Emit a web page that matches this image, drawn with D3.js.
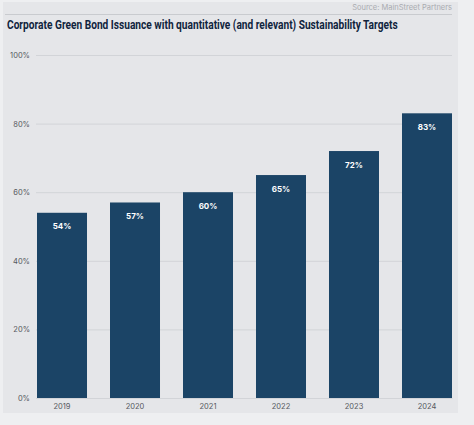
<!DOCTYPE html>
<html><head><meta charset="utf-8">
<script src="https://cdn.jsdelivr.net/npm/d3@7"></script>
<style>
html,body{margin:0;padding:0;background:#eeeff1;}
svg{display:block;}
</style></head>
<body>
<svg id="chart" width="474" height="425"></svg>
<script>
const years = ["2019","2020","2021","2022","2023","2024"];
const shares = [54, 57, 60, 65, 72, 83];
const yTicks = [0, 20, 40, 60, 80, 100];
const titleText = "Corporate Green Bond Issuance with quantitative (and relevant) Sustainability Targets";
const sourceText = "Source: MainStreet Partners";

const svg = d3.select("#chart");
svg.append("rect").attr("x",3).attr("y",2).attr("width",455).attr("height",411).attr("fill","#e5e6e9");

svg.append("text").attr("x",452).attr("y",10).attr("text-anchor","end")
  .attr("font-family","Inter, 'Noto Sans', sans-serif").attr("font-size",7.5).attr("fill","#a9abb0")
  .text(sourceText);
svg.append("line").attr("x1",5).attr("x2",452).attr("y1",14.5).attr("y2",14.5).attr("stroke","#c9cbcf").attr("stroke-width",1);

const title = svg.append("text").attr("transform","translate(7,28.5)")
  .attr("font-family","Roboto, sans-serif").attr("font-weight","bold")
  .attr("font-size",13).attr("fill","#10243d")
  .text(titleText);
const tw = title.node().getComputedTextLength();
title.attr("transform", `translate(7,28.5) scale(${Math.min(1, 391 / tw)},1)`);

const x = d3.scaleBand().domain(years).range([37,452]).paddingInner(0.315).paddingOuter(0);
const y = d3.scaleLinear().domain([0,100]).range([398,55]);

const yAxis = d3.axisLeft(y).tickValues(yTicks).tickFormat(d=>d+"%").tickSize(-(452-36)).tickPadding(6);
const gy = svg.append("g").attr("transform","translate(36,0)").call(yAxis);
gy.select(".domain").remove();
gy.selectAll(".tick line").attr("stroke","#d2d4d8").attr("stroke-width",1);
gy.selectAll(".tick text").attr("font-family","Inter, 'Noto Sans', sans-serif").attr("font-size",7.5).attr("fill","#555860");

const xAxis = d3.axisBottom(x).tickSize(0).tickPadding(6);
const gx = svg.append("g").attr("transform","translate(0,398)").call(xAxis);
gx.select(".domain").attr("stroke","#d2d4d8");
gx.selectAll(".tick text").attr("font-family","Inter, 'Noto Sans', sans-serif").attr("font-size",7.5).attr("fill","#555860");

svg.append("g").selectAll("rect").data(years).join("rect")
  .attr("x",d=>x(d)).attr("width",x.bandwidth())
  .attr("y",(d,i)=>y(shares[i])).attr("height",(d,i)=>y(0)-y(shares[i]))
  .attr("fill","#1b4466");

svg.append("g").selectAll("text").data(years).join("text")
  .attr("x",d=>x(d)+x.bandwidth()/2).attr("y",(d,i)=>y(shares[i])+16.5)
  .attr("text-anchor","middle")
  .attr("font-family","Inter, 'Noto Sans', sans-serif").attr("font-weight","bold").attr("font-size",8)
  .attr("fill","#ffffff")
  .text((d,i)=>shares[i]+"%");
</script>
</body></html>
